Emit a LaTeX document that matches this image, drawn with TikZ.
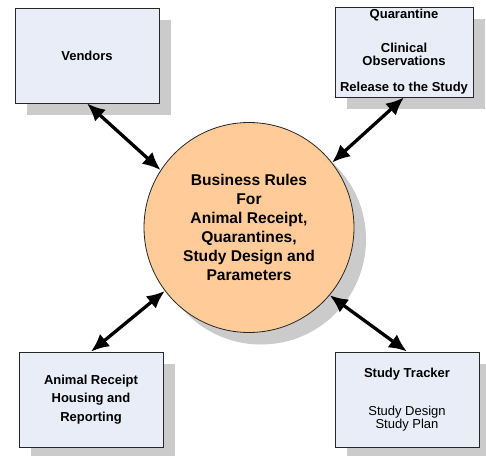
\documentclass[tikz,border=0pt]{standalone}
\usepackage{fontspec}
\setmainfont{Liberation Sans}
\usepackage{tikz}
\usetikzlibrary{arrows.meta,shadows}

\definecolor{boxfill}{HTML}{E8EDF8}
\definecolor{rulesfill}{HTML}{FFCC99}
\definecolor{shadowgray}{HTML}{CBCBCB}

\tikzset{
    flatshadow/.style={general shadow={fill=shadowgray, shadow xshift=12pt, shadow yshift=-12pt}},
    infobox/.style={draw=black!85, line width=0.8pt, fill=boxfill, flatshadow,
        minimum width=144pt, minimum height=95pt, inner sep=0pt, align=center,
        font=\fontsize{13}{13}\selectfont\bfseries},
    rulescircle/.style={circle, draw=black!85, line width=0.8pt, fill=rulesfill, flatshadow,
        minimum size=210pt, inner sep=0pt, align=center,
        font=\fontsize{15.6}{19}\selectfont\bfseries},
    dblarrow/.style={{Latex[length=18pt,width=16pt]}-{Latex[length=18pt,width=16pt]}, line width=3.3pt}
}

\begin{document}
\begin{tikzpicture}[x=1pt, y=-1pt]
    \useasboundingbox (0,0) rectangle (486,455);

    % Draw the four boxes
    \node[infobox] (vend) at (87,55.5) {Vendors};
    \node[infobox, minimum width=138pt, minimum height=90pt] (quar) at (404,52)
        {Quarantine\\[21pt]Clinical\\Observations\\[13pt]Release to the Study};
    \node[infobox, font=\fontsize{13}{18.3}\selectfont\bfseries] (anim) at (91,399.5)
        {Animal Receipt\\Housing and\\Reporting};
    \node[infobox] (stud) at (407,399.5)
        {Study Tracker\\[25pt]\mdseries Study Design\\\mdseries Study Plan};

    % Draw the central circle
    \node[rulescircle] (rules) at (249,227.5)
        {Business Rules\\For\\Animal Receipt,\\Quarantines,\\Study Design and\\Parameters};

    % Connect boxes to the circle
    \foreach \b/\s/\a in {vend/south/147, quar/south/38, anim/north/217, stud/north/320}
        \draw[dblarrow] (\b.\s) -- (rules.\a);
\end{tikzpicture}
\end{document}
